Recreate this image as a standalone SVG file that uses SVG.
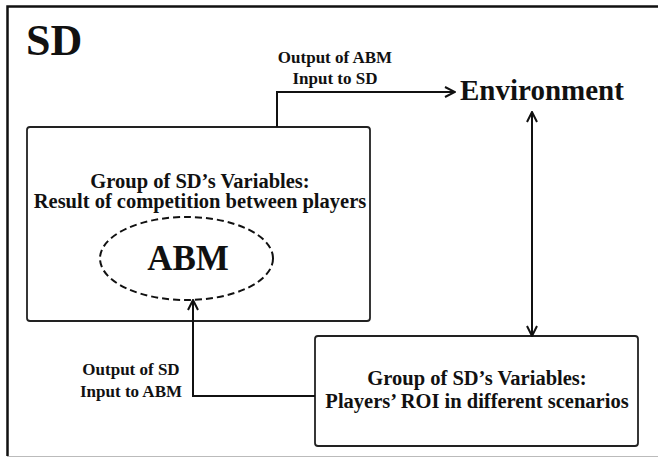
<svg xmlns="http://www.w3.org/2000/svg" width="658" height="458" viewBox="0 0 658 458">
  <style>
    text { font-family: "Liberation Serif", "Times New Roman", serif; font-weight: bold; fill: #111; }
    .box { fill: #fff; stroke: #222; stroke-width: 1.8; }
    .conn { fill: none; stroke: #111; stroke-width: 2; }
    .lbl { font-size: 17px; text-anchor: middle; }
    .var { font-size: 20.5px; text-anchor: middle; }
  </style>
  <defs>
    <marker id="arrow" viewBox="0 0 12 12" refX="11" refY="6" markerWidth="12" markerHeight="12" markerUnits="userSpaceOnUse" orient="auto-start-reverse">
      <path d="M1,1 L11,6 L1,11" fill="none" stroke="#111" stroke-width="2"/>
    </marker>
  </defs>

  <rect width="658" height="458" fill="#fff"/>

  <!-- outer SD frame -->
  <g id="frame">
    <path d="M658,6.5 H7.5 V456" fill="none" stroke="#111" stroke-width="2.5"/>
    <line x1="7" y1="456.5" x2="658" y2="456.5" stroke="#bbb" stroke-width="1"/>
    <text x="26" y="55" font-size="44">SD</text>
  </g>

  <!-- environment -->
  <g id="environment">
    <text x="460" y="100" font-size="29">Environment</text>
  </g>

  <!-- SD variables: competition result, with ABM inside -->
  <g id="competition">
    <rect class="box" x="27" y="127" width="343" height="194" rx="3"/>
    <text class="var" x="200" y="188">Group of SD’s Variables:</text>
    <text class="var" x="200" y="208">Result of competition between players</text>
  </g>

  <g id="abm">
    <ellipse cx="186.5" cy="258.5" rx="86.5" ry="41.5" fill="none" stroke="#111" stroke-width="2" stroke-dasharray="7,4"/>
    <text x="188" y="270" font-size="35" text-anchor="middle">ABM</text>
  </g>

  <!-- SD variables: players' ROI -->
  <g id="roi">
    <rect class="box" x="315" y="336" width="323" height="110" rx="3"/>
    <text class="var" x="477" y="385">Group of SD’s Variables:</text>
    <text class="var" x="477" y="408">Players’ ROI in different scenarios</text>
  </g>

  <!-- connectors -->
  <g id="connectors">
    <path class="conn" d="M277,127 V92 H455" marker-end="url(#arrow)"/>
    <path class="conn" d="M532,112 V336" marker-start="url(#arrow)" marker-end="url(#arrow)"/>
    <path class="conn" d="M315,396 H193 V300" marker-end="url(#arrow)"/>
    <text class="lbl" x="335" y="63">Output of ABM</text>
    <text class="lbl" x="335" y="84">Input to SD</text>
    <text class="lbl" x="131" y="375">Output of SD</text>
    <text class="lbl" x="131" y="397">Input to ABM</text>
  </g>
</svg>
